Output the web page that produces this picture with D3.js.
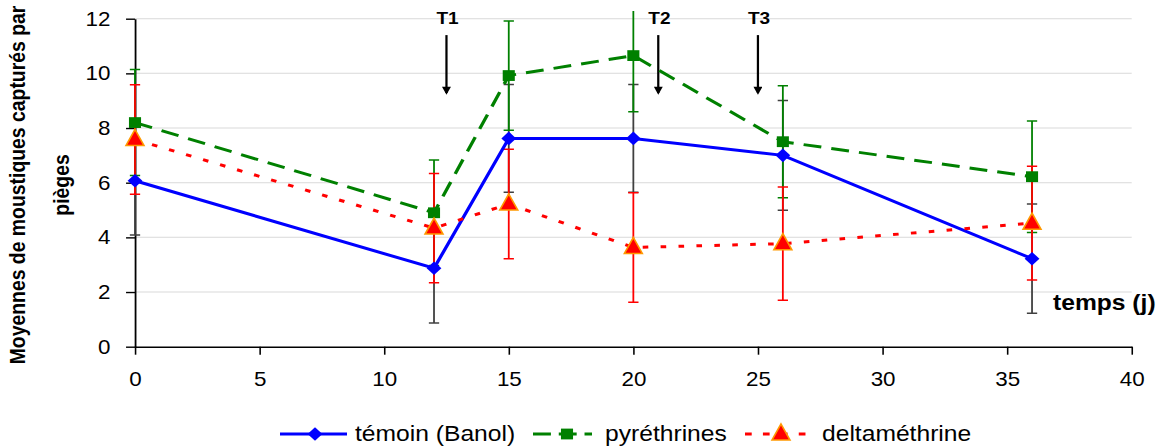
<!DOCTYPE html>
<html>
<head>
<meta charset="utf-8">
<script src="https://cdn.jsdelivr.net/npm/d3@7/dist/d3.min.js"></script>
<style>
  html, body { margin: 0; padding: 0; background: #fff; }
  svg { display: block; font-family: "Liberation Sans", Arial, sans-serif; }
</style>
</head>
<body>
<svg id="chart"></svg>
<script>
// data
const days = [0, 12, 15, 20, 26, 36];
const temoin = [6.07, 2.87, 7.62, 7.62, 7.0, 3.22];
const temoinErr = [1.98, 2.0, 1.97, 1.97, 2.01, 2.0];
const pyrethrines = [8.2, 4.9, 9.92, 10.65, 7.5, 6.22];
const pyrethrinesErr = [1.94, 1.93, 2.0, 2.05, 2.05, 2.04];
const deltamethrine = [7.58, 4.34, 5.22, 3.63, 3.77, 4.52];
const deltamethrineErr = [2.0, 2.0, 2.0, 2.0, 2.07, 2.08];

const yTicks = [0, 2, 4, 6, 8, 10, 12];
const xTicks = [0, 5, 10, 15, 20, 25, 30, 35, 40];
const treatDays = [12.5, 21, 25];
const treatLabels = ['T1', 'T2', 'T3'];

const seriesNames = ['témoin (Banol)', 'pyréthrines', 'deltaméthrine'];
const yTitle = ['Moyennes de moustiques capturés par', 'pièges'];
const xTitle = 'temps (j)';

// the original picture is stretched horizontally
const SX = 1.12;
const W = 1159 / SX, H = 447;

const svg = d3.select('#chart')
    .attr('width', 1159)
    .attr('height', H)
    .attr('viewBox', `0 0 ${W} ${H}`)
    .attr('preserveAspectRatio', 'none');

const x = d3.scaleLinear().domain([0, 40]).range([135 / SX, 1131.7 / SX]);
const y = d3.scaleLinear().domain([0, 12]).range([346.7, 18.7]);

const defs = svg.append('defs');
defs.append('clipPath').attr('id', 'plotclip')
    .append('rect')
    .attr('x', x(0) - 20).attr('y', 11)
    .attr('width', x(40) - x(0) + 40).attr('height', y(0) - 11 + 20);

// gridlines
svg.append('g').selectAll('line')
    .data(yTicks.filter(d => d > 0))
    .join('line')
    .attr('x1', x(0)).attr('x2', x(40))
    .attr('y1', d => y(d)).attr('y2', d => y(d))
    .attr('stroke', '#d9d9d9').attr('stroke-width', 1);

// axes
const yAxis = svg.append('g')
    .attr('transform', `translate(${x(0)},0)`)
    .call(d3.axisLeft(y).tickValues(yTicks).tickSize(8).tickSizeOuter(0).tickPadding(14));
const xAxis = svg.append('g')
    .attr('transform', `translate(0,${y(0)})`)
    .call(d3.axisBottom(x).tickValues(xTicks).tickSize(8).tickSizeOuter(0).tickPadding(17));
[xAxis, yAxis].forEach(a => {
    a.select('.domain').attr('stroke', '#000').attr('stroke-width', 1.6);
    a.selectAll('.tick line').attr('stroke', '#000').attr('stroke-width', 1.4);
    a.selectAll('.tick text')
        .attr('fill', '#000')
        .style('font-family', '"Liberation Sans", Arial, sans-serif')
        .style('font-size', '20px');
});

// axis titles
const yt = svg.append('text')
    .attr('transform', `translate(22.6,185) rotate(-90)`)
    .attr('text-anchor', 'middle')
    .style('font-weight', 'bold').style('font-size', '19.4px');
yt.append('tspan').attr('x', 0).attr('y', 0).text(yTitle[0]);
yt.append('tspan').attr('x', 0).attr('y', 39).text(yTitle[1]);

svg.append('text')
    .attr('x', 1053 / SX).attr('y', 310)
    .style('font-weight', 'bold').style('font-size', '22px')
    .text(xTitle);

// treatment arrows
defs.append('marker')
    .attr('id', 'arrowhead')
    .attr('viewBox', '0 0 10 10')
    .attr('refX', 8).attr('refY', 5)
    .attr('markerWidth', 5).attr('markerHeight', 4)
    .attr('orient', 'auto')
    .append('path').attr('d', 'M0,0 L10,5 L0,10 Z').attr('fill', '#000');

const arrows = svg.append('g');
treatDays.forEach((d, i) => {
    arrows.append('line')
        .attr('x1', x(d)).attr('x2', x(d))
        .attr('y1', y(11.4)).attr('y2', y(9.28))
        .attr('stroke', '#000').attr('stroke-width', 2)
        .attr('marker-end', 'url(#arrowhead)');
    arrows.append('text')
        .attr('x', x(d) + 1).attr('y', 24)
        .attr('text-anchor', 'middle')
        .style('font-weight', 'bold').style('font-size', '17px')
        .text(treatLabels[i]);
});

const series = [
    { name: seriesNames[0], values: temoin, err: temoinErr, color: '#0000ff', errColor: '#404040', dash: null, legDash: null, shape: 'diamond' },
    { name: seriesNames[1], values: pyrethrines, err: pyrethrinesErr, color: '#008000', errColor: '#008000', dash: '16,9', legDash: '16,7', shape: 'square' },
    { name: seriesNames[2], values: deltamethrine, err: deltamethrineErr, color: '#ff0000', errColor: '#ff0000', dash: '5,11', legDash: '6,10', shape: 'triangle' }
];

const shapes = {
    diamond: 'M0,-6.8 L6.6,0 L0,6.8 L-6.6,0 Z',
    square: 'M-5.4,-5.4 L5.4,-5.4 L5.4,5.4 L-5.4,5.4 Z',
    triangle: 'M0,-10 L8,6 L-8,6 Z'
};

function drawMarker(g, s, cx, cy) {
    const p = g.append('path')
        .attr('d', shapes[s.shape])
        .attr('transform', `translate(${cx},${cy})`)
        .attr('fill', s.color);
    if (s.shape === 'triangle') p.attr('stroke', '#ff9900').attr('stroke-width', 1.5);
}

// error bars
const errG = svg.append('g').attr('clip-path', 'url(#plotclip)');
series.forEach(s => {
    days.forEach((d, i) => {
        const hi = s.values[i] + s.err[i], lo = s.values[i] - s.err[i];
        errG.append('line')
            .attr('x1', x(d)).attr('x2', x(d))
            .attr('y1', y(hi)).attr('y2', y(lo))
            .attr('stroke', s.errColor).attr('stroke-width', 1.6);
        [hi, lo].forEach(v => {
            errG.append('line')
                .attr('x1', x(d) - 4.6).attr('x2', x(d) + 4.6)
                .attr('y1', y(v)).attr('y2', y(v))
                .attr('stroke', s.errColor).attr('stroke-width', 1.5);
        });
    });
});

// lines and markers
const line = d3.line().x(d => x(d[0])).y(d => y(d[1]));
series.forEach(s => {
    svg.append('path')
        .datum(days.map((d, i) => [d, s.values[i]]))
        .attr('d', line)
        .attr('fill', 'none')
        .attr('stroke', s.color)
        .attr('stroke-width', 3)
        .attr('stroke-dasharray', s.dash);
});
const markG = svg.append('g');
series.forEach(s => {
    days.forEach((d, i) => drawMarker(markG, s, x(d), y(s.values[i])));
});

// legend
const legendItems = [
    { x0: 280, x1: 347, mx: 315, tx: 355 },
    { x0: 533, x1: 592, mx: 567, tx: 605 },
    { x0: 745, x1: 810, mx: 781, tx: 822 }
];
const legend = svg.append('g');
const ly = 434;
series.forEach((s, i) => {
    const it = legendItems[i];
    legend.append('line')
        .attr('x1', it.x0 / SX).attr('x2', it.x1 / SX)
        .attr('y1', ly).attr('y2', ly)
        .attr('stroke', s.color).attr('stroke-width', 3)
        .attr('stroke-dasharray', s.legDash);
    drawMarker(legend, s, it.mx / SX, ly);
    legend.append('text')
        .attr('x', it.tx / SX).attr('y', ly + 7.5)
        .style('font-size', '22px')
        .text(s.name);
});
</script>
</body>
</html>
